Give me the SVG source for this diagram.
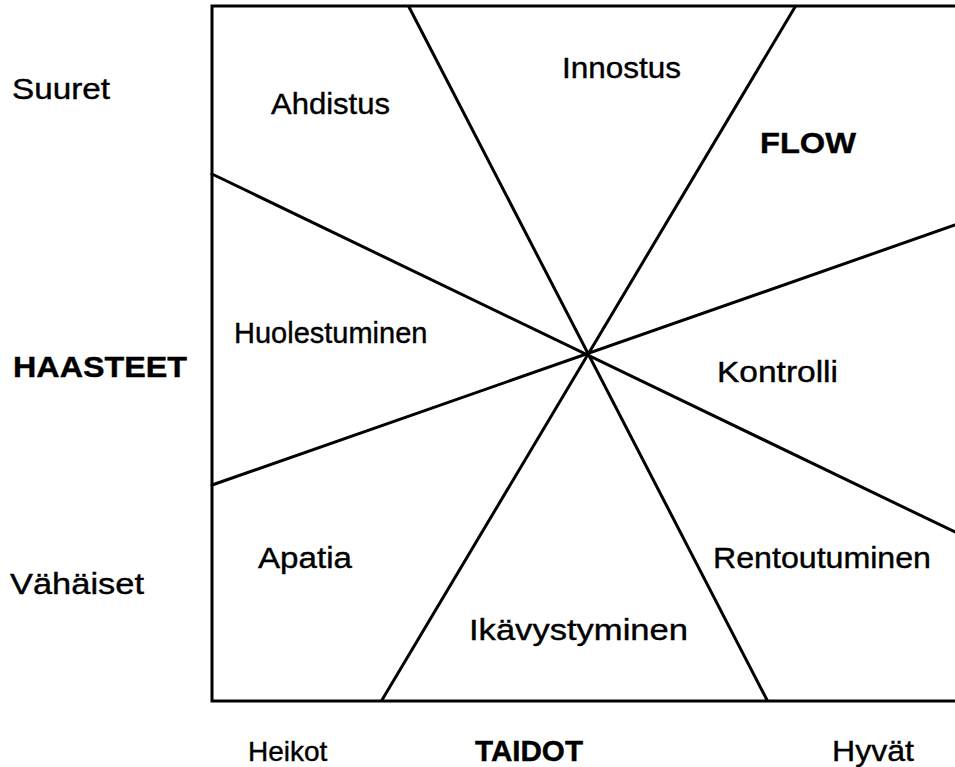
<svg xmlns="http://www.w3.org/2000/svg" width="955" height="767" viewBox="0 0 955 767">
<style>
text{font-family:"Liberation Sans",Arial,sans-serif;font-size:30px;fill:#000;stroke:#000;stroke-width:0.4}
.b{font-weight:bold}
.ln{stroke:#000;stroke-width:3;fill:none;stroke-linecap:round}
</style>
<rect width="955" height="767" fill="#fff"/>
<g id="frame">
<path class="ln" d="M955,6 H212 V701 H955"/>
</g>
<g id="connectors">
<line class="ln" x1="409" y1="7" x2="767" y2="700"/>
<line class="ln" x1="795" y1="7" x2="382" y2="700"/>
<line class="ln" x1="212" y1="174" x2="955" y2="532"/>
<line class="ln" x1="212" y1="485" x2="955" y2="225"/>
</g>
<g id="axis-y">
<text x="12" y="99" textLength="98" lengthAdjust="spacingAndGlyphs">Suuret</text>
<text class="b" x="13" y="377" textLength="174" lengthAdjust="spacingAndGlyphs">HAASTEET</text>
<text x="10" y="594" textLength="134" lengthAdjust="spacingAndGlyphs">Vähäiset</text>
</g>
<g id="axis-x">
<text x="248" y="761" style="font-size:28px">Heikot</text>
<text class="b" x="475" y="761" textLength="108" lengthAdjust="spacingAndGlyphs">TAIDOT</text>
<text x="832" y="761" textLength="82" lengthAdjust="spacingAndGlyphs">Hyvät</text>
</g>
<g id="ahdistus"><text x="271" y="114" textLength="119" lengthAdjust="spacingAndGlyphs">Ahdistus</text></g>
<g id="innostus"><text x="562" y="78" textLength="119" lengthAdjust="spacingAndGlyphs">Innostus</text></g>
<g id="flow"><text class="b" x="760" y="153" textLength="96" lengthAdjust="spacingAndGlyphs">FLOW</text></g>
<g id="huolestuminen"><text x="234" y="343" style="font-size:29px">Huolestuminen</text></g>
<g id="kontrolli"><text x="717" y="382" textLength="121" lengthAdjust="spacingAndGlyphs">Kontrolli</text></g>
<g id="apatia"><text x="258" y="568" textLength="94" lengthAdjust="spacingAndGlyphs">Apatia</text></g>
<g id="rentoutuminen"><text x="713" y="568" textLength="218" lengthAdjust="spacingAndGlyphs">Rentoutuminen</text></g>
<g id="ikavystyminen"><text x="469" y="640" textLength="219" lengthAdjust="spacingAndGlyphs">Ikävystyminen</text></g>
</svg>
